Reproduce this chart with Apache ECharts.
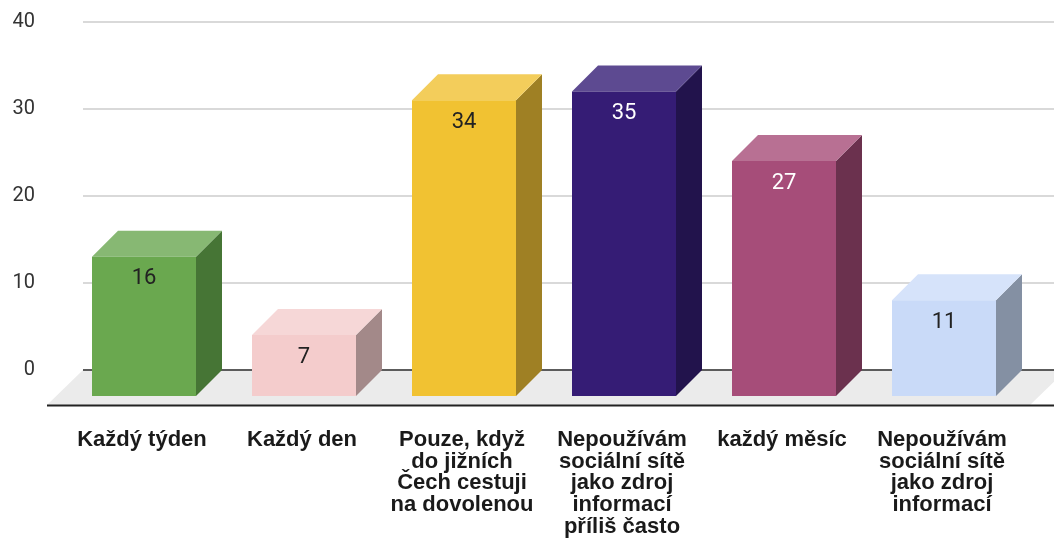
<!DOCTYPE html>
<html>
<head>
<meta charset="utf-8">
<script src="https://cdn.jsdelivr.net/npm/echarts@6/dist/echarts.min.js"></script>
<style>
  html, body { margin: 0; padding: 0; background: #fff; }
  #chart { width: 1054px; height: 539px; }
</style>
</head>
<body>
<div id="chart"></div>
<script>
// data
var categories = [
  'Každý týden',
  'Každý den',
  'Pouze, když\ndo jižních\nČech cestuji\nna dovolenou',
  'Nepoužívám\nsociální sítě\njako zdroj\ninformací\npříliš často',
  'každý měsíc',
  'Nepoužívám\nsociální sítě\njako zdroj\ninformací'
];
var values = [16, 7, 34, 35, 27, 11];
var yTicks = [0, 10, 20, 30, 40];

// face colours per bar: front, top, side, label colour
var palette = [
  { front: '#6aa84f', top: '#87b873', side: '#467535', text: '#222222' },
  { front: '#f4cccc', top: '#f6d7d7', side: '#a38989', text: '#222222' },
  { front: '#f1c232', top: '#f3cd5b', side: '#9f8024', text: '#222222' },
  { front: '#351c75', top: '#5d4a91', side: '#22134c', text: '#ffffff' },
  { front: '#a64d79', top: '#b87093', side: '#6b314e', text: '#ffffff' },
  { front: '#c9daf8', top: '#d6e3fa', side: '#8490a3', text: '#222222' }
];

var DEPTH = 26;   // 3d offset of the front face
var BAR_W = 104;

var chart = echarts.init(document.getElementById('chart'));

function renderBar(params, api) {
  var idx = api.value(0);
  var top = api.coord([idx, api.value(1)]);
  var base = api.coord([idx, 0]);
  var x0 = top[0] + 2 - BAR_W / 2;
  var yTop = top[1] + DEPTH;
  var yBot = base[1] + DEPTH;
  var c = palette[idx];
  return {
    type: 'group',
    children: [
      {
        type: 'polygon',
        shape: { points: [[x0 + BAR_W, yTop], [x0 + BAR_W + DEPTH, yTop - DEPTH], [x0 + BAR_W + DEPTH, yBot - DEPTH], [x0 + BAR_W, yBot]] },
        style: { fill: c.side }
      },
      {
        type: 'polygon',
        shape: { points: [[x0, yTop], [x0 + BAR_W, yTop], [x0 + BAR_W + DEPTH, yTop - DEPTH], [x0 + DEPTH, yTop - DEPTH]] },
        style: { fill: c.top }
      },
      {
        type: 'rect',
        shape: { x: x0, y: yTop, width: BAR_W, height: yBot - yTop },
        style: { fill: c.front }
      },
      {
        type: 'text',
        x: x0 + BAR_W / 2,
        y: yTop + 22,
        style: {
          text: String(api.value(1)),
          fill: c.text,
          font: '22px Roboto',
          align: 'center',
          verticalAlign: 'middle'
        }
      }
    ]
  };
}

var option = {
  animation: false,
  graphic: [
    {
      // floor
      type: 'polygon',
      z: 0,
      shape: { points: [[47, 405], [83, 370], [1066, 370], [1030, 405]] },
      style: { fill: '#ebebeb' }
    },
    {
      type: 'line',
      z: 1,
      shape: { x1: 83, y1: 370, x2: 1054, y2: 370 },
      style: { stroke: '#333333', lineWidth: 1.5 }
    },
    {
      type: 'line',
      z: 1,
      shape: { x1: 47, y1: 405.5, x2: 1054, y2: 405.5 },
      style: { stroke: '#222222', lineWidth: 2 }
    }
  ],
  grid: [
    { left: 83, right: 0, top: 22, bottom: 169 },
    { left: 62, right: 32, top: 22, bottom: 169 }
  ],
  xAxis: [
    { type: 'value', gridIndex: 0, show: false, min: 0, max: 1 },
    {
      type: 'category',
      gridIndex: 1,
      data: categories,
      offset: 25,
      axisLine: { show: false },
      axisTick: { show: true, alignWithLabel: true, length: 22, lineStyle: { color: '#222', width: 2 } },
      axisLabel: {
        interval: 0,
        margin: 34,
        color: '#1a1a1a',
        fontFamily: 'Liberation Sans',
        fontWeight: 'bold',
        fontSize: 22,
        lineHeight: 21.7,
        align: 'center',
        verticalAlign: 'top'
      }
    }
  ],
  yAxis: [
    {
      type: 'value',
      gridIndex: 0,
      min: yTicks[0],
      max: yTicks[yTicks.length - 1],
      interval: 10,
      axisLine: { show: false },
      axisTick: { show: false },
      axisLabel: { margin: 48, color: '#333333', fontFamily: 'Roboto', fontSize: 20 },
      splitLine: { show: true, lineStyle: { color: '#cccccc', width: 1.5 } }
    },
    {
      type: 'value',
      gridIndex: 1,
      min: yTicks[0],
      max: yTicks[yTicks.length - 1],
      show: false
    }
  ],
  series: [
    {
      type: 'custom',
      xAxisIndex: 1,
      yAxisIndex: 1,
      z: 5,
      renderItem: renderBar,
      data: values.map(function (v, i) { return [i, v]; })
    }
  ]
};

chart.setOption(option);
</script>
</body>
</html>
